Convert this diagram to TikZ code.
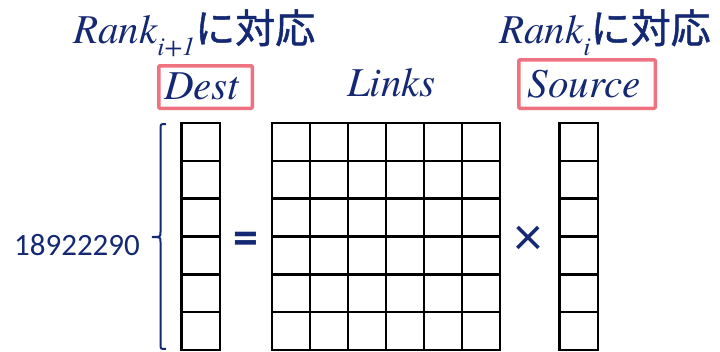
\documentclass[tikz,border=0pt]{standalone}
\usepackage{fontspec}
\newfontfamily\tnr{texgyretermes}[Extension=.otf, UprightFont=*-regular, ItalicFont=*-italic]
\newfontfamily\cjk{Noto Sans CJK JP}[FakeBold=1.2]
\newfontfamily\numfont{Carlito}
\newcommand\jpfont{\cjk\fontsize{40}{40}\selectfont}
\newcommand\subfont{\tnr\itshape\fontsize{26}{26}\selectfont}
\definecolor{navy}{RGB}{20,40,115}
\definecolor{pinkbox}{RGB}{238,114,128}
\begin{document}
\begin{tikzpicture}[x=1pt,y=-1pt,
  lab/.style={inner sep=0pt, text=navy, font=\tnr\itshape\fontsize{41}{41}\selectfont},
  cell/.style={draw=black, line width=2.5pt, minimum width=38.5pt, minimum height=37.83pt, inner sep=0pt, outer sep=0pt},
  lcell/.style={cell, minimum width=38pt},
  hl/.style={draw=pinkbox, line width=3.5pt, rounded corners=1pt, inner sep=0pt},
  sym/.style={inner sep=0pt, text=navy}]
\useasboundingbox (0,0) rectangle (720,351);
% matrices
\foreach \i in {1,...,6}{
  \node[cell] (d\i) at (200.5,{123+37.83*(\i-0.5)}) {};
  \node[cell] (s\i) at (578.5,{123+37.83*(\i-0.5)}) {};
  \foreach \j in {1,...,6}{
    \node[lcell] (l\i\j) at ({272+38*(\j-0.5)},{123+37.83*(\i-0.5)}) {};
  }
}
% header labels
\node[lab, anchor=base west] (rank1) at (73,43) {Rank\raisebox{-12pt}{\subfont i+1}{\upshape\jpfont に対応}};
\node[lab, anchor=base west] (rank0) at (499,43) {Rank\raisebox{-12pt}{\subfont i}{\upshape\jpfont に対応}};
\node[lab, anchor=base] (dest) at (201.5,99) {Dest};
\node[hl, minimum width=93.5pt, minimum height=42.5pt] (destbox) at (205.5,87) {};
\node[lab, anchor=base] (links) at (391.5,96) {Links};
\node[lab, anchor=base] (source) at (584,97) {Source};
\node[hl, minimum width=136.5pt, minimum height=48.5pt] (sourcebox) at (587,84) {};
% operators
\node[sym, font=\numfont\bfseries\fontsize{50}{50}\selectfont] (eq) at (246,243.5) {=};
\node[sym, font=\numfont\fontsize{56}{56}\selectfont] (times) at (528,241) {×};
% size label and brace
\node[sym, anchor=base, font=\numfont\fontsize{31}{31}\selectfont] (size) at (77,255) {18922290};
\coordinate (tip) at (152,237);
\draw[navy, line width=2pt] (166,124) .. controls (160.5,124) .. (160.5,129) -- (160.5,232)
  .. controls (160.5,237) .. (tip) .. controls (160.5,237) .. (160.5,242) -- (160.5,344)
  .. controls (160.5,349) .. (166,349);
\end{tikzpicture}
\end{document}
